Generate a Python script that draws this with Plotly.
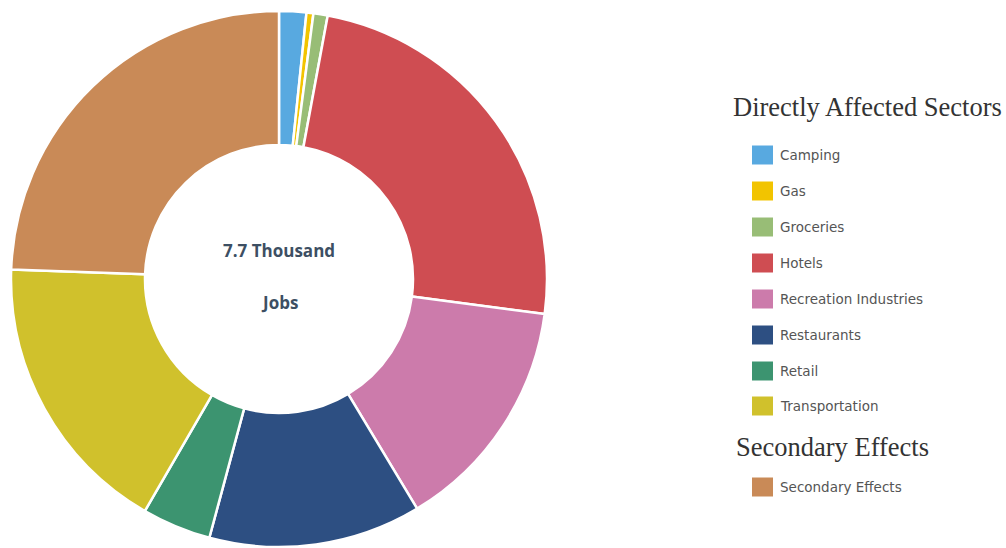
import plotly.graph_objects as go

# ---- data ----
sectors = ["Camping", "Gas", "Groceries", "Hotels", "Recreation Industries",
           "Restaurants", "Retail", "Transportation", "Secondary Effects"]
jobs = [126, 32, 66, 1860, 1100, 985, 320, 1325, 1880]
colors = ["#58a9e0", "#f2c400", "#98bd76", "#cf4d52", "#cc7bab",
          "#2d4f82", "#3c9470", "#d0c12c", "#c98a57"]
groups = ["Directly Affected Sectors"] * 8 + ["Secondary Effects"]
center_lines = ["7.7 Thousand", "Jobs"]

W, H = 1006, 548
cx, cy, r = 279, 279, 268

fig = go.Figure()
fig.add_trace(go.Pie(
    labels=sectors, values=jobs, hole=0.5, sort=False,
    direction="clockwise", rotation=0,
    marker=dict(colors=colors, line=dict(color="white", width=2.5)),
    textinfo="none", hoverinfo="label+value", showlegend=False,
    domain=dict(x=[(cx - r) / W, (cx + r) / W],
                y=[(H - cy - r) / H, (H - cy + r) / H]),
))

# center text
for txt, yy in zip(center_lines, [250, 302]):
    fig.add_annotation(x=cx / W, y=1 - yy / H, xref="paper", yref="paper",
                       xanchor="center", yanchor="middle",
                       text="<b>%s</b>" % txt, showarrow=False,
                       font=dict(family="Open Sans", size=17, color="#3d4f63"))

# custom grouped legend
title_y = {"Directly Affected Sectors": 107, "Secondary Effects": 447}
title_x = {"Directly Affected Sectors": 731, "Secondary Effects": 734}
for g in ["Directly Affected Sectors", "Secondary Effects"]:
    fig.add_annotation(x=title_x[g] / W, y=1 - title_y[g] / H, xref="paper", yref="paper",
                       xanchor="left", yanchor="middle", text=g, showarrow=False,
                       font=dict(family="Liberation Serif", size=26.5, color="#333333"))

item_y = [155, 191, 227, 263, 299, 335, 371, 406, 487]
for name, col, yy in zip(sectors, colors, item_y):
    fig.add_shape(type="rect", xref="paper", yref="paper",
                  x0=752 / W, x1=773 / W, y0=1 - (yy - 9.5) / H, y1=1 - (yy + 9.5) / H,
                  fillcolor=col, line=dict(width=0))
    fig.add_annotation(x=778 / W, y=1 - yy / H, xref="paper", yref="paper",
                       xanchor="left", yanchor="middle", text=name, showarrow=False,
                       font=dict(family="DejaVu Sans", size=13.5, color="#555555"))

fig.update_layout(width=W, height=H, margin=dict(l=0, r=0, t=0, b=0),
                  paper_bgcolor="white", plot_bgcolor="white", showlegend=False)
fig.write_html("out.html", config={"displayModeBar": False},
               post_script="document.body.style.margin='0px';")
